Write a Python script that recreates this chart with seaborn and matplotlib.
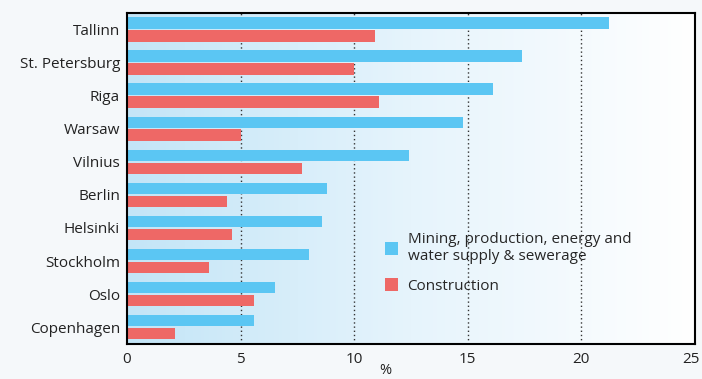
import numpy as np
import pandas as pd
import matplotlib
matplotlib.use("Agg")
import matplotlib.pyplot as plt
from matplotlib.colors import LinearSegmentedColormap
from matplotlib.patches import Patch
from matplotlib.transforms import ScaledTranslation
import seaborn as sns

cities = ["Tallinn", "St. Petersburg", "Riga", "Warsaw", "Vilnius", "Berlin",
          "Helsinki", "Stockholm", "Oslo", "Copenhagen"]
mining = [21.2, 17.4, 16.1, 14.8, 12.4, 8.8, 8.6, 8.0, 6.5, 5.6]
construction = [10.9, 10.0, 11.1, 5.0, 7.7, 4.4, 4.6, 3.6, 5.6, 2.1]
series = ["Mining, production, energy and\nwater supply & sewerage", "Construction"]
xticks = [0, 5, 10, 15, 20, 25]

df = pd.DataFrame({
    "city": cities * 2,
    "value": mining + construction,
    "series": [series[0]] * len(cities) + [series[1]] * len(cities),
})

sns.set_style("white")
plt.rcParams["font.family"] = ["Open Sans", "DejaVu Sans"]

fig = plt.figure(figsize=(7.02, 3.79), dpi=100, facecolor="#f5f8fa")
ax = fig.add_axes([0.181, 0.093, 0.809, 0.873])

colors = ["#5bc6f3", "#ee6866"]
sns.barplot(data=df, y="city", x="value", hue="series", order=cities,
            hue_order=series, palette=colors, orient="h", width=0.78,
            gap=0.12, saturation=1, ax=ax, legend=False, zorder=3,
            linewidth=0, edgecolor="none")

# gradient background
cmap = LinearSegmentedColormap.from_list("bg", ["#c3e5f7", "#e6f4fc", "#ffffff"])
grad = np.linspace(0, 1, 256).reshape(1, -1)
ax.imshow(grad, aspect="auto", cmap=cmap, extent=[0, 1, 0, 1],
          transform=ax.transAxes, zorder=0)

ax.set_xlim(0, 25)
ax.set_ylim(len(cities) - 0.5, -0.5)
ax.set_xticks(xticks)
ax.set_xticklabels([str(t) for t in xticks], fontsize=11, color="#222222")
ax.tick_params(axis="both", length=0, pad=6)
ax.tick_params(axis="y", labelsize=11, labelcolor="#222222", pad=5)
last = ax.get_xticklabels()[-1]
last.set_transform(last.get_transform() + ScaledTranslation(-4 / 100, 0, fig.dpi_scale_trans))
for t in [5, 10, 15, 20]:
    ax.axvline(t, color="#333333", lw=1, ls=(0, (1, 2)), zorder=1)
ax.set_xlabel("%", fontsize=10.5, color="#222222")
ax.xaxis.set_label_coords(0.454, -0.058)
ax.set_ylabel("")
for s in ax.spines.values():
    s.set_visible(True)
    s.set_color("black")
    s.set_linewidth(1.5)
    s.set_zorder(5)

handles = [Patch(facecolor=c, edgecolor="none") for c in colors]
ax.legend(handles, series, loc="upper left", bbox_to_anchor=(0.44, 0.36),
          frameon=False, fontsize=11, handlelength=0.9, handleheight=0.9,
          handletextpad=0.6, labelspacing=0.9, borderpad=0)

fig.savefig("out.png", dpi=100, facecolor=fig.get_facecolor())
